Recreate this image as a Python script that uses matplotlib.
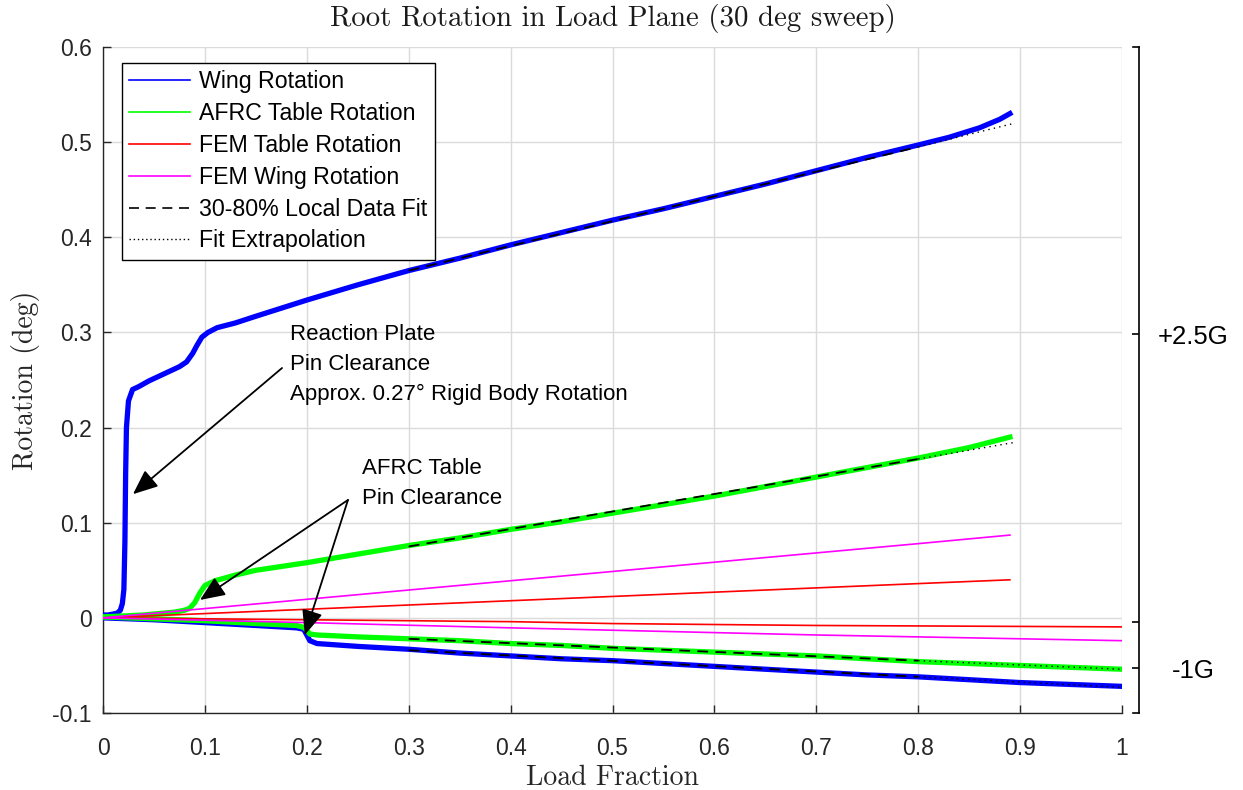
import matplotlib
matplotlib.use("Agg")
import matplotlib.pyplot as plt
from matplotlib.lines import Line2D

plt.rcParams['font.family'] = ['Liberation Sans', 'DejaVu Sans']
plt.rcParams['axes.unicode_minus'] = False

# ---------------- data ----------------
x_ticks = [0, 0.1, 0.2, 0.3, 0.4, 0.5, 0.6, 0.7, 0.8, 0.9, 1.0]
x_tick_labels = ['0', '0.1', '0.2', '0.3', '0.4', '0.5', '0.6', '0.7', '0.8', '0.9', '1']
y_ticks = [-0.1, 0, 0.1, 0.2, 0.3, 0.4, 0.5, 0.6]
y_tick_labels = ['-0.1', '0', '0.1', '0.2', '0.3', '0.4', '0.5', '0.6']
g_ticks = [-0.053, -0.004, 0.298]
g_tick_labels = ['-1G', '', '+2.5G']

# positive sweep (+2.5G)
wing_pos_x = [0, 0.005, 0.01, 0.014, 0.017, 0.019, 0.0205, 0.0215, 0.0222, 0.023, 0.025,
              0.029, 0.035, 0.045, 0.055, 0.065, 0.075, 0.082, 0.088, 0.092, 0.097, 0.103,
              0.112, 0.13, 0.15, 0.2, 0.25, 0.3, 0.35, 0.4, 0.45, 0.5, 0.55, 0.6, 0.65,
              0.7, 0.75, 0.8, 0.83, 0.86, 0.88, 0.89]
wing_pos_y = [0.003, 0.003, 0.004, 0.005, 0.008, 0.015, 0.03, 0.08, 0.15, 0.2, 0.228,
              0.24, 0.243, 0.249, 0.254, 0.259, 0.264, 0.269, 0.278, 0.286, 0.295, 0.3,
              0.305, 0.31, 0.317, 0.334, 0.35, 0.365, 0.378, 0.392, 0.405, 0.418, 0.43,
              0.443, 0.456, 0.47, 0.484, 0.497, 0.505, 0.515, 0.524, 0.53]
afrc_pos_x = [0, 0.02, 0.04, 0.06, 0.07, 0.08, 0.085, 0.09, 0.095, 0.1, 0.11, 0.13, 0.15,
              0.2, 0.25, 0.3, 0.35, 0.4, 0.45, 0.5, 0.55, 0.6, 0.65, 0.7, 0.75, 0.8,
              0.85, 0.89]
afrc_pos_y = [0.001, 0.002, 0.003, 0.005, 0.006, 0.008, 0.01, 0.016, 0.026, 0.034, 0.039,
              0.045, 0.05, 0.058, 0.067, 0.076, 0.084, 0.093, 0.101, 0.11, 0.119, 0.128,
              0.138, 0.148, 0.158, 0.168, 0.179, 0.19]
fem_table_pos_x = [0, 0.2, 0.4, 0.6, 0.8, 0.89]
fem_table_pos_y = [0, 0.009, 0.018, 0.027, 0.036, 0.040]
fem_wing_pos_x = [0, 0.2, 0.4, 0.6, 0.8, 0.89]
fem_wing_pos_y = [0, 0.0195, 0.039, 0.0585, 0.078, 0.087]

# negative sweep (-1G)
wing_neg_x = [0, 0.05, 0.1, 0.15, 0.19, 0.197, 0.2, 0.203, 0.21, 0.25, 0.3, 0.35, 0.4,
              0.45, 0.5, 0.55, 0.6, 0.65, 0.7, 0.75, 0.8, 0.85, 0.9, 0.95, 1.0]
wing_neg_y = [0, -0.002, -0.005, -0.008, -0.0105, -0.012, -0.018, -0.024, -0.027, -0.030,
              -0.033, -0.037, -0.040, -0.043, -0.045, -0.048, -0.051, -0.054, -0.057,
              -0.060, -0.062, -0.065, -0.068, -0.070, -0.072]
afrc_neg_x = wing_neg_x
afrc_neg_y = [0.001, -0.001, -0.003, -0.006, -0.008, -0.010, -0.013, -0.017, -0.018, -0.020,
              -0.022, -0.024, -0.027, -0.029, -0.032, -0.034, -0.036, -0.038, -0.040,
              -0.043, -0.046, -0.048, -0.050, -0.052, -0.054]
fem_table_neg_x = [0, 0.1, 0.2, 0.3, 0.4, 0.5, 0.6, 0.7, 0.8, 0.9, 1.0]
fem_table_neg_y = [0, -0.001, -0.002, -0.003, -0.004, -0.006, -0.007, -0.008, -0.0085,
                   -0.009, -0.0095]
fem_wing_neg_x = [0, 0.2, 0.4, 0.6, 0.7, 0.8, 0.9, 1.0]
fem_wing_neg_y = [0, -0.005, -0.0105, -0.0155, -0.018, -0.020, -0.022, -0.024]

# 30-80% local fits and their extrapolations
fit_x = [0.3, 0.8]
wing_pos_fit_y = [0.365, 0.495]
afrc_pos_fit_y = [0.075, 0.167]
wing_neg_fit_y = [-0.034, -0.062]
afrc_neg_fit_y = [-0.022, -0.045]
ext_pos_x = [0.8, 0.895]
wing_pos_ext_y = [0.495, 0.520]
afrc_pos_ext_y = [0.167, 0.1845]
ext_neg_x = [0.8, 1.0]
wing_neg_ext_y = [-0.062, -0.073]
afrc_neg_ext_y = [-0.045, -0.054]

legend_labels = ['Wing Rotation', 'AFRC Table Rotation', 'FEM Table Rotation',
                 'FEM Wing Rotation', '30-80% Local Data Fit', 'Fit Extrapolation']

# ---------------- figure ----------------
W, H = 1243, 790
fig = plt.figure(figsize=(W / 100, H / 100), dpi=100)
ax = fig.add_axes([103 / W, 77 / H, 1019 / W, 666 / H])

BLUE, GREEN, RED, MAG = (0, 0, 1), (0, 1, 0), (1, 0, 0), (1, 0, 1)
DATA_LW = 3.8

ax.plot(wing_pos_x, wing_pos_y, color=BLUE, lw=DATA_LW, zorder=3)
ax.plot(wing_neg_x, wing_neg_y, color=BLUE, lw=DATA_LW, zorder=3)
ax.plot(afrc_pos_x, afrc_pos_y, color=GREEN, lw=DATA_LW, zorder=4)
ax.plot(afrc_neg_x, afrc_neg_y, color=GREEN, lw=DATA_LW, zorder=4)
ax.plot(fem_table_pos_x, fem_table_pos_y, color=RED, lw=1.2, zorder=5)
ax.plot(fem_table_neg_x, fem_table_neg_y, color=RED, lw=1.2, zorder=5)
ax.plot(fem_wing_pos_x, fem_wing_pos_y, color=MAG, lw=1.2, zorder=5)
ax.plot(fem_wing_neg_x, fem_wing_neg_y, color=MAG, lw=1.2, zorder=5)

for fy in (wing_pos_fit_y, afrc_pos_fit_y, wing_neg_fit_y, afrc_neg_fit_y):
    ax.plot(fit_x, fy, color='black', lw=1.3, ls=(0, (6, 4)), zorder=6)
for ex, ey in ((ext_pos_x, wing_pos_ext_y), (ext_pos_x, afrc_pos_ext_y),
               (ext_neg_x, wing_neg_ext_y), (ext_neg_x, afrc_neg_ext_y)):
    ax.plot(ex, ey, color='black', lw=1.0, ls=(0, (1, 3)), zorder=6)

ax.set_xlim(0, 1)
ax.set_ylim(-0.1, 0.6)
ax.set_xticks(x_ticks)
ax.set_xticklabels(x_tick_labels)
ax.set_yticks(y_ticks)
ax.set_yticklabels(y_tick_labels)
ax.grid(True, color=(0.86, 0.86, 0.86), lw=1.0)
ax.set_axisbelow(True)
for s in ('top', 'right'):
    ax.spines[s].set_visible(False)
for s in ('left', 'bottom'):
    ax.spines[s].set_color((0.15, 0.15, 0.15))
    ax.spines[s].set_linewidth(1.0)
ax.tick_params(direction='in', length=6, width=1.0, colors=(0.15, 0.15, 0.15),
               labelsize=16.5, labelcolor=(0.15, 0.15, 0.15))
ax.tick_params(axis='x', pad=17)
ax.tick_params(axis='y', pad=8)

ax.set_title('Root Rotation in Load Plane (30 deg sweep)', family='cmr10',
             fontsize=20.8, pad=15, color=(0.1, 0.1, 0.1))
ax.set_xlabel('Load Fraction', family='cmr10', fontsize=20, labelpad=4,
              color=(0.15, 0.15, 0.15))
ax.set_ylabel('Rotation (deg)', family='cmr10', fontsize=20, labelpad=9,
              color=(0.15, 0.15, 0.15))

handles = [Line2D([], [], color=BLUE, lw=1.2), Line2D([], [], color=GREEN, lw=1.2),
           Line2D([], [], color=RED, lw=1.2), Line2D([], [], color=MAG, lw=1.2),
           Line2D([], [], color='black', lw=1.2, ls=(0, (6, 4))),
           Line2D([], [], color='black', lw=1.0, ls=(0, (1, 2)))]
leg = ax.legend(handles, legend_labels, loc='upper left',
                bbox_to_anchor=(19 / 1019, 650 / 666), borderaxespad=0,
                fontsize=16.7, handlelength=2.6, handletextpad=0.4,
                labelspacing=0.38, borderpad=0.32, fancybox=False,
                framealpha=1, edgecolor='black')
leg.get_frame().set_linewidth(1.0)
leg.set_zorder(10)

arrow = dict(arrowstyle='-|>,head_length=0.9,head_width=0.38', color='black',
             lw=1.3, mutation_scale=17, shrinkA=0, shrinkB=0)
ax.annotate('', xy=(0.0294, 0.130), xytext=(0.1757, 0.2626), arrowprops=arrow, zorder=8)
ax.annotate('', xy=(0.0952, 0.0188), xytext=(0.2404, 0.1239), arrowprops=arrow, zorder=8)
ax.annotate('', xy=(0.198, -0.018), xytext=(0.2404, 0.1239), arrowprops=arrow, zorder=8)
ax.text(0.1835, 0.2665,
        'Reaction Plate\nPin Clearance\nApprox. 0.27\u00b0 Rigid Body Rotation',
        fontsize=16, va='center', ha='left', linespacing=1.55, color='black', zorder=9)
ax.text(0.2542, 0.1415, 'AFRC Table\nPin Clearance', fontsize=16, va='center',
        ha='left', linespacing=1.55, color='black', zorder=9)

# right-hand load axis
ax2 = fig.add_axes([1133 / W, 77 / H, 6 / W, 666 / H])
ax2.set_ylim(-0.1, 0.6)
ax2.set_xticks([])
ax2.patch.set_visible(False)
ax2.spines['left'].set_visible(False)
for s in ('right', 'top', 'bottom'):
    ax2.spines[s].set_color('black')
    ax2.spines[s].set_linewidth(1.2)
ax2.yaxis.tick_right()
ax2.set_yticks(g_ticks)
ax2.set_yticklabels(g_tick_labels)
ax2.tick_params(axis='y', direction='in', length=5, width=1.2, labelsize=18.5, pad=39)
for lab in ax2.get_yticklabels():
    lab.set_horizontalalignment('center')

fig.savefig('out.png', dpi=100)
